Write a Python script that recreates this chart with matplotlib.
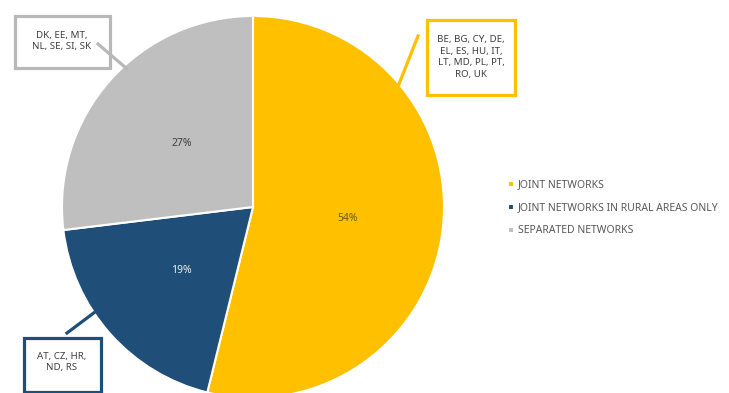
import matplotlib.pyplot as plt
from matplotlib.patches import Rectangle
from matplotlib.lines import Line2D

plt.rcParams['font.family'] = ['Noto Sans', 'DejaVu Sans']

categories = ["JOINT NETWORKS", "JOINT NETWORKS IN RURAL AREAS ONLY", "SEPARATED NETWORKS"]
country_counts = [14, 5, 7]
country_lists = ["BE, BG, CY, DE,\nEL, ES, HU, IT,\nLT, MD, PL, PT,\nRO, UK",
                 "AT, CZ, HR,\nND, RS",
                 "DK, EE, MT,\nNL, SE, SI, SK"]
colors = ["#FFC000", "#1F4E79", "#BFBFBF"]
pct_colors = ["#6b5a1e", "#e8eef5", "#404040"]

W, H = 729, 393
fig = plt.figure(figsize=(W / 100, H / 100), dpi=100)


def fx(x):
    return x / W


def fy(y):
    return 1 - y / H


cx, cy, r = 253, 207, 191
ax = fig.add_axes([fx(cx - r), fy(cy + r), 2 * r / W, 2 * r / H])
wedges, texts, autotexts = ax.pie(
    country_counts, colors=colors, startangle=90, counterclock=False,
    autopct='%1.0f%%', pctdistance=0.5,
    wedgeprops=dict(edgecolor='white', linewidth=1.5))
for t, c in zip(autotexts, pct_colors):
    t.set_color(c)
    t.set_fontsize(7.5)
ax.set_xlim(-1, 1)
ax.set_ylim(-1, 1)
ax.set_aspect('equal')

# callout boxes: (left, top, right, bottom) in pixels, leader line, text centre
callouts = [
    ((427, 20, 515, 95), ((418, 36), (399, 84)), (471, 57)),
    ((24, 338, 101, 392), ((67, 333), (95, 312)), (62, 362)),
    ((15, 16, 110, 68), ((98, 44), (126, 68)), (62, 41)),
]
for (l, t, rr, b), line, tc, col, txt in zip(
        [c[0] for c in callouts], [c[1] for c in callouts],
        [c[2] for c in callouts], colors, country_lists):
    edge = col if col != "#BFBFBF" else "#B8B8B8"
    fig.add_artist(Rectangle((fx(l), fy(b)), (rr - l) / W, (b - t) / H,
                             transform=fig.transFigure, facecolor='white',
                             edgecolor=edge, linewidth=2.3))
    (x1, y1), (x2, y2) = line
    fig.add_artist(Line2D([fx(x1), fx(x2)], [fy(y1), fy(y2)],
                          transform=fig.transFigure, color=edge, linewidth=2.3))
    fig.text(fx(tc[0]), fy(tc[1]), txt, ha='center', va='center',
             fontsize=7, color='#404040', linespacing=1.35)

fig.legend(wedges, categories, loc='center left',
           bbox_to_anchor=(fx(499), fy(208)), frameon=False,
           fontsize=7.5, labelcolor='#595959', handlelength=0.55,
           handleheight=0.55, handletextpad=0.35, labelspacing=1.15)

fig.savefig("out.png", dpi=100)
